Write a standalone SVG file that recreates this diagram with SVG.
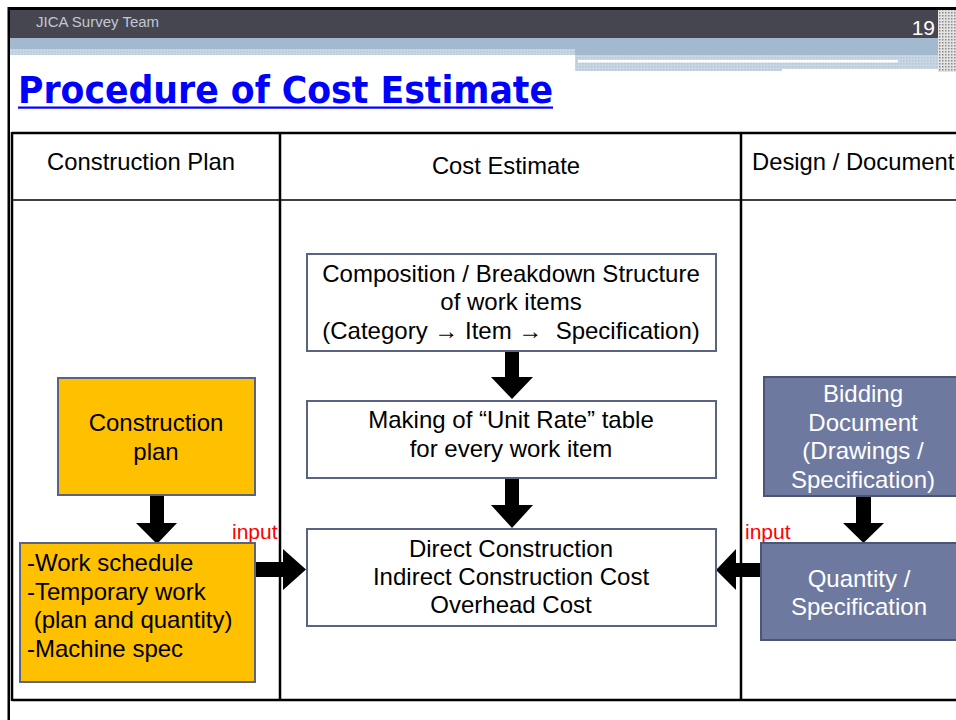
<svg xmlns="http://www.w3.org/2000/svg" width="956" height="720" viewBox="0 0 956 720">
<style>
  .t { font-family: "Liberation Sans", Arial, sans-serif; font-size: 24px; fill: #000; }
  .c { text-anchor: middle; }
  .w { fill: #fff; }
  .hdr { font-family: "Liberation Sans", Arial, sans-serif; font-size: 23.8px; fill: #000; }
  .grid { stroke: #000; stroke-width: 2.5; fill: none; }
  .wbox { fill: #fff; stroke: #5b6383; stroke-width: 2; }
  .obox { fill: #ffc000; stroke: #5b6383; stroke-width: 2; }
  .bbox { fill: #6e79a0; stroke: #4d5577; stroke-width: 2; }
  .arrow { fill: #000; }
  .in { font-family: "Liberation Sans", Arial, sans-serif; font-size: 21px; fill: #ff0000; }
</style>
<defs>
  <pattern id="dots" width="3" height="3" patternUnits="userSpaceOnUse">
    <rect width="3" height="3" fill="#e4e4e4"/>
    <rect width="1.5" height="1.5" fill="#8a8a8a"/>
  </pattern>
  <pattern id="lightdots" width="3" height="3" patternUnits="userSpaceOnUse">
    <rect width="3" height="3" fill="#c9d6e3"/>
    <rect width="1.5" height="1.5" fill="#b6c7d8"/>
  </pattern>
</defs>

<rect width="956" height="720" fill="#fff"/>

<!-- slide header -->
<g id="header">
  <rect x="8" y="7" width="948" height="3.5" fill="#000"/>
  <rect x="8" y="10" width="948" height="28" fill="#464651"/>
  <rect x="8" y="38" width="930" height="11" fill="#a3b9cf"/>
  <rect x="8" y="49" width="567" height="6" fill="url(#lightdots)"/>
  <rect x="575" y="49" width="363" height="6" fill="#a3b9cf"/>
  <rect x="575" y="55" width="363" height="16" fill="url(#lightdots)"/>
  <rect x="578" y="60" width="320" height="2.5" fill="#fff"/>
  <rect x="782" y="69" width="166" height="4" fill="#fff"/>
  <rect x="938" y="10" width="18" height="62" fill="url(#dots)"/>
  <text x="36" y="27" font-family="Liberation Sans, Arial, sans-serif" font-size="15" fill="#c3c7d3">JICA Survey Team</text>
  <text x="935" y="35" font-family="Liberation Sans, Arial, sans-serif" font-size="21" fill="#fff" text-anchor="end">19</text>
</g>
<rect x="7.5" y="7" width="2.5" height="713" fill="#000"/>

<!-- title -->
<g id="title">
  <text x="18" y="103" font-family="DejaVu Sans, Verdana, sans-serif" font-weight="bold" font-stretch="condensed" font-size="37" fill="#0000ff" textLength="535" lengthAdjust="spacingAndGlyphs">Procedure of Cost Estimate</text>
  <rect x="18" y="106.5" width="535" height="2.2" fill="#0000ff"/>
</g>

<!-- table grid -->
<g id="table">
  <line class="grid" x1="12" y1="133" x2="956" y2="133"/>
  <line x1="12" y1="200" x2="956" y2="200" stroke="#000" stroke-width="1.6"/>
  <line class="grid" x1="12" y1="700" x2="956" y2="700"/>
  <line class="grid" x1="12" y1="132" x2="12" y2="701"/>
  <line class="grid" x1="280" y1="132" x2="280" y2="701"/>
  <line class="grid" x1="741" y1="132" x2="741" y2="701"/>
  <text class="hdr" x="141" y="170" text-anchor="middle">Construction Plan</text>
  <text class="hdr" x="506" y="174" text-anchor="middle">Cost Estimate</text>
  <text class="hdr" x="752" y="170">Design / Document</text>
</g>

<!-- connectors -->
<g id="connectors">
  <polygon class="arrow" points="505,351 519,351 519,377 533,377 512,399 491,377 505,377"/>
  <polygon class="arrow" points="505,478 519,478 519,505 533,505 512,528 491,505 505,505"/>
  <polygon class="arrow" points="150,495 164,495 164,523 177,523 157,544 136,523 150,523"/>
  <polygon class="arrow" points="255,562 283,562 283,549 306,569.5 283,590 283,577 255,577"/>
  <polygon class="arrow" points="856,496 871,496 871,523 884,523 863.5,543 843,523 856,523"/>
  <polygon class="arrow" points="761,563 736,563 736,549 716,570 736,590 736,577 761,577"/>
  <text class="in" x="232" y="539">input</text>
  <text class="in" x="745" y="539">input</text>
</g>

<!-- nodes -->
<g id="composition">
  <rect class="wbox" x="307" y="254" width="409" height="97"/>
  <text class="t c" x="511" y="282">Composition / Breakdown Structure</text>
  <text class="t c" x="511" y="310">of work items</text>
  <text class="t c" x="511" y="339" xml:space="preserve">(Category → Item →  Specification)</text>
</g>
<g id="unit-rate">
  <rect class="wbox" x="307" y="401" width="409" height="77"/>
  <text class="t c" x="511" y="428">Making of “Unit Rate” table</text>
  <text class="t c" x="511" y="457">for every work item</text>
</g>
<g id="direct-cost">
  <rect class="wbox" x="307" y="529" width="409" height="97"/>
  <text class="t c" x="511" y="557">Direct Construction</text>
  <text class="t c" x="511" y="585">Indirect Construction Cost</text>
  <text class="t c" x="511" y="613">Overhead Cost</text>
</g>
<g id="construction-plan">
  <rect class="obox" x="58" y="378" width="197" height="117"/>
  <text class="t c" x="156" y="431">Construction</text>
  <text class="t c" x="156" y="460">plan</text>
</g>
<g id="work-schedule">
  <rect class="obox" x="20" y="543" width="235" height="139"/>
  <text class="t" x="27" y="571">-Work schedule</text>
  <text class="t" x="27" y="600">-Temporary work</text>
  <text class="t" x="27" y="628" xml:space="preserve"> (plan and quantity)</text>
  <text class="t" x="27" y="657">-Machine spec</text>
</g>
<g id="bidding-document">
  <rect class="bbox" x="764" y="377" width="200" height="119"/>
  <text class="t c w" x="863" y="402">Bidding</text>
  <text class="t c w" x="863" y="431">Document</text>
  <text class="t c w" x="863" y="459">(Drawings /</text>
  <text class="t c w" x="863" y="488">Specification)</text>
</g>
<g id="quantity">
  <rect class="bbox" x="761" y="543" width="203" height="97"/>
  <text class="t c w" x="859" y="587">Quantity /</text>
  <text class="t c w" x="859" y="615">Specification</text>
</g>
</svg>
